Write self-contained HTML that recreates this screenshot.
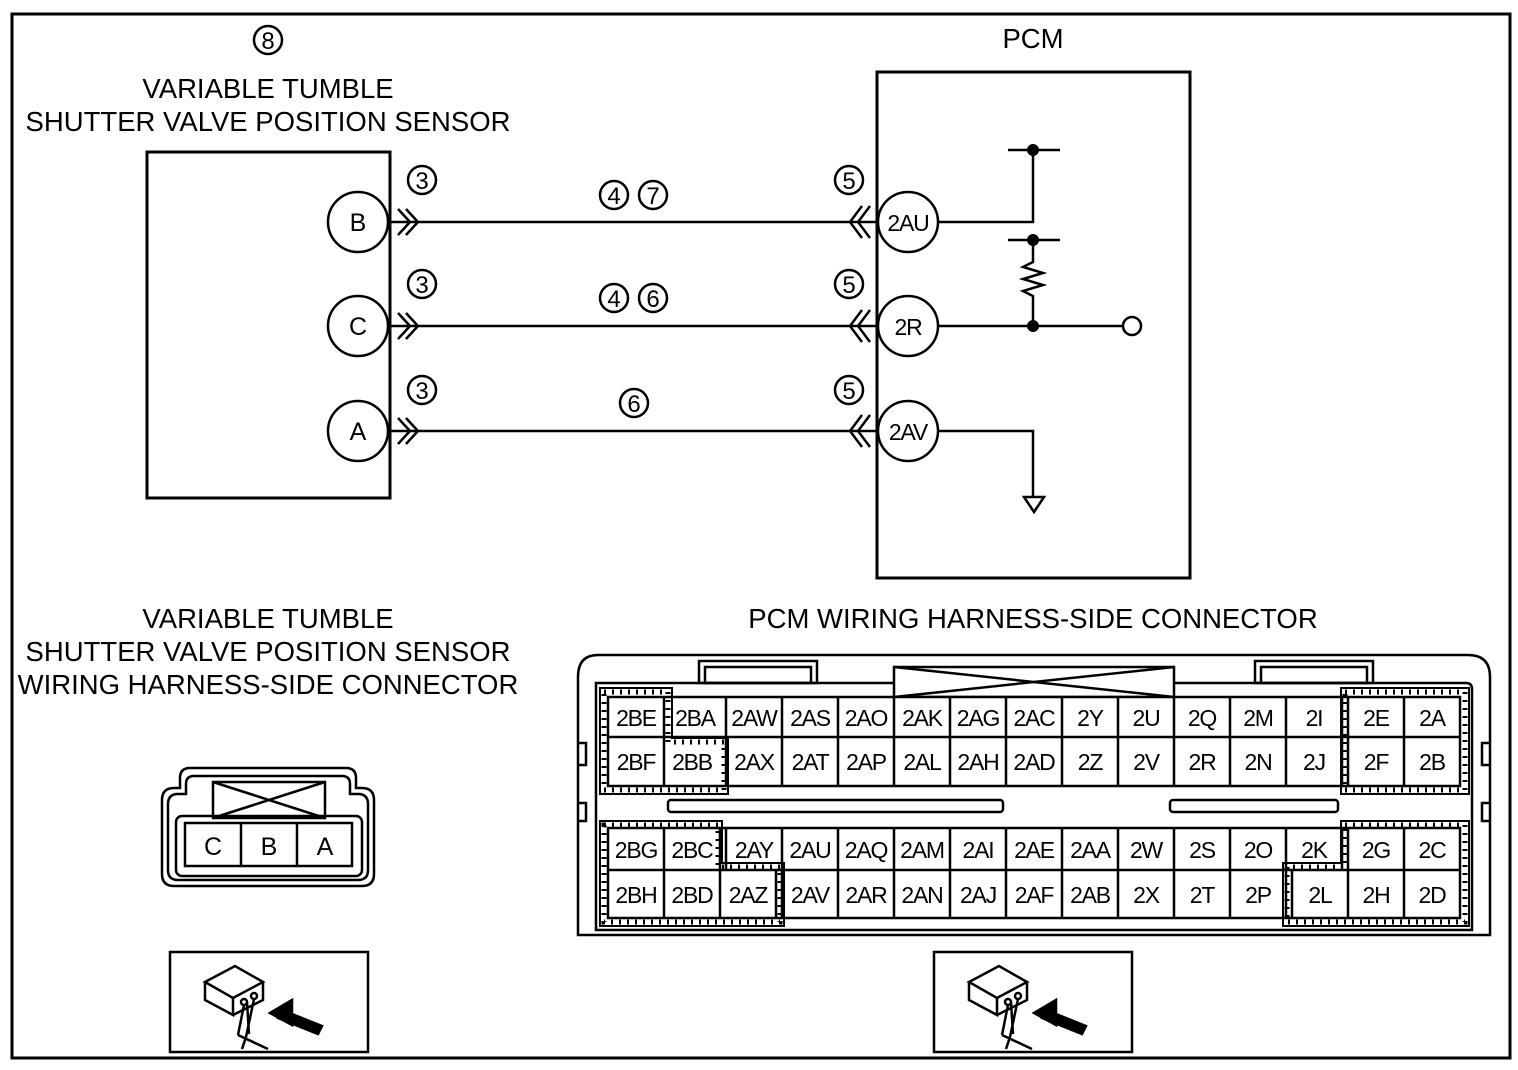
<!DOCTYPE html>
<html><head><meta charset="utf-8"><style>
html,body{margin:0;padding:0;background:#fff;}
svg{display:block;}
text{font-family:"Liberation Sans",sans-serif;fill:#000;}
.t{font-size:27.5px;text-anchor:middle;}
.c{font-size:23px;text-anchor:middle;letter-spacing:-1.2px;}
.n{font-size:25px;text-anchor:middle;}
.s{font-size:24px;text-anchor:middle;}
</style></head><body>
<svg width="1518" height="1070" viewBox="0 0 1518 1070" xmlns="http://www.w3.org/2000/svg" stroke="#000" fill="none">
<rect x="12" y="14" width="1498" height="1044" stroke-width="3"/>
<g stroke="none">
<text class="t" x="268" y="98">VARIABLE TUMBLE</text>
<text class="t" x="268" y="131">SHUTTER VALVE POSITION SENSOR</text>
<text class="t" x="1033" y="48">PCM</text>
<text class="t" x="268" y="628">VARIABLE TUMBLE</text>
<text class="t" x="268" y="661">SHUTTER VALVE POSITION SENSOR</text>
<text class="t" x="268" y="694">WIRING HARNESS-SIDE CONNECTOR</text>
<text class="t" x="1033" y="628">PCM WIRING HARNESS-SIDE CONNECTOR</text>
</g>
<g stroke-width="2.5">
<circle cx="268" cy="40" r="14"/>
<circle cx="422" cy="180" r="14"/><circle cx="422" cy="284" r="14"/><circle cx="422" cy="390" r="14"/>
<circle cx="614" cy="195" r="14"/><circle cx="653" cy="195" r="14"/>
<circle cx="614" cy="298" r="14"/><circle cx="653" cy="298" r="14"/>
<circle cx="634" cy="403" r="14"/>
<circle cx="849" cy="180" r="14"/><circle cx="849" cy="284" r="14"/><circle cx="849" cy="390" r="14"/>
</g>
<g stroke="none">
<text class="s" x="268" y="49">8</text>
<text class="s" x="422" y="189">3</text><text class="s" x="422" y="293">3</text><text class="s" x="422" y="399">3</text>
<text class="s" x="614" y="204">4</text><text class="s" x="653" y="204">7</text>
<text class="s" x="614" y="307">4</text><text class="s" x="653" y="307">6</text>
<text class="s" x="634" y="412">6</text>
<text class="s" x="849" y="189">5</text><text class="s" x="849" y="293">5</text><text class="s" x="849" y="399">5</text>
</g>
<rect x="147" y="152" width="243" height="346" stroke-width="3"/>
<rect x="877" y="72" width="313" height="506" stroke-width="3"/>
<g stroke-width="2.5" fill="#fff">
<circle cx="358" cy="222" r="30"/><circle cx="358" cy="326" r="30"/><circle cx="358" cy="431" r="30"/>
<circle cx="908" cy="222" r="30"/><circle cx="908" cy="326" r="30"/><circle cx="908" cy="431" r="30"/>
</g>
<g stroke="none">
<text class="n" x="358" y="231">B</text><text class="n" x="358" y="335">C</text><text class="n" x="358" y="440">A</text>
<text class="c" x="908" y="231">2AU</text><text class="c" x="908" y="335">2R</text><text class="c" x="908" y="440">2AV</text>
</g>
<g stroke-width="2.5">
<line x1="390" y1="222" x2="877" y2="222"/><line x1="390" y1="326" x2="877" y2="326"/><line x1="390" y1="431" x2="877" y2="431"/>
<path d="M398 209l12 13l-12 13M406 209l12 13l-12 13"/>
<path d="M398 313l12 13l-12 13M406 313l12 13l-12 13"/>
<path d="M398 418l12 13l-12 13M406 418l12 13l-12 13"/>
<path d="M862 206l-12 16l12 16M870 206l-12 16l12 16"/>
<path d="M862 310l-12 16l12 16M870 310l-12 16l12 16"/>
<path d="M862 415l-12 16l12 16M870 415l-12 16l12 16"/>
<path d="M938 222H1033V150M1008 150H1060M1008 240H1060M1033 240V262l-10 5l20 6l-20 6l20 6l-20 6l10 5V326M938 326H1122M938 431H1033V497"/>
<circle cx="1132" cy="326" r="9"/>
<path d="M1024 497h20l-10 15z"/>
</g>
<g fill="#000" stroke="none"><circle cx="1033" cy="150" r="6"/><circle cx="1033" cy="240" r="6"/><circle cx="1033" cy="326" r="6"/></g>
<!-- small connector -->
<g stroke-width="2.5">
<path d="M162 800q0-12 12-12h6v-10q0-10 10-10h156q10 0 10 10v10h6q12 0 12 12v74q0 12-12 12h-188q-12 0-12-12z"/>
<path d="M168 804q0-10 10-10h8v-10q0-8 8-8h148q8 0 8 8v10h8q10 0 10 10v66q0 10-10 10h-180q-10 0-10-10z"/>
<rect x="213" y="782" width="112" height="36"/>
<path d="M213 782L325 818M325 782L213 818"/>
<rect x="176" y="816" width="186" height="60" rx="6"/>
<rect x="185" y="823" width="167" height="43"/>
<path d="M241 823v43M297 823v43"/>
</g>
<g stroke="none"><text class="n" x="213" y="855">C</text><text class="n" x="269" y="855">B</text><text class="n" x="325" y="855">A</text></g>
<!-- icon boxes -->
<g stroke-width="2.5">
<rect x="170" y="952" width="198" height="100"/>
<rect x="934" y="952" width="198" height="100"/>
<g id="ic">
<path d="M205 982l30-16l28 16l-30 16zM205 982v18l28 15v-17M233 1015l30-15v-18"/>
<circle cx="244" cy="1002" r="3"/><circle cx="254" cy="996" r="3"/>
<path d="M244 1005l-6 30M254 999l-8 38M247 1002l2 32M238 1035l30 14M246 1037l-4 12"/>
<path d="M292 1000l-22 13l22 12z" fill="#000"/><path d="M282 1010l40 16l-4 8l-40-16z" fill="#000"/>
</g>
<use href="#ic" transform="translate(764 0)"/>
</g>
<!-- PCM connector housing -->
<g stroke-width="2.5">
<path d="M598 655H1468q22 0 22 22V935H578V677q0-22 20-22z"/>
<path d="M596 683H1466q6 0 6 6V930H596z"/>
<path d="M578 743h8v22h-8M578 803h8v18h-8M1490 743h-8v22h8M1490 803h-8v18h8"/>
<rect x="699" y="661" width="118" height="22"/><rect x="705" y="667" width="106" height="16"/>
<rect x="1255" y="661" width="118" height="22"/><rect x="1261" y="667" width="106" height="16"/>
<rect x="894" y="667" width="280" height="30" fill="#fff"/>
<path d="M894 667L1174 697M1174 667L894 697"/>
<rect x="668" y="800" width="335" height="12" rx="3"/>
<rect x="1170" y="800" width="168" height="12" rx="3"/>
<rect x="608" y="697" width="852" height="89" fill="#fff"/>
<line x1="608" y1="737" x2="1460" y2="737"/>
<path d="M664 697v89M726 697v89M782 697v89M838 697v89M894 697v89M950 697v89M1006 697v89M1062 697v89M1118 697v89M1174 697v89M1230 697v89M1286 697v89M1342 697v89M1348 697v89M1404 697v89"/>
<rect x="608" y="828" width="852" height="90" fill="#fff"/>
<line x1="608" y1="870" x2="1460" y2="870"/>
<path d="M664 828v90M720 828v90M726 828v42M782 828v90M776 870v48M838 828v90M894 828v90M950 828v90M1006 828v90M1062 828v90M1118 828v90M1174 828v90M1230 828v90M1286 828v90M1342 828v42M1292 870v48M1348 828v90M1404 828v90"/>
</g>
<g stroke-width="2">
<path d="M600 688H672V738H728V794H600Z"/>
<path d="M1341 688H1469V794H1341Z"/>
<path d="M600 821H722V863H784V926H600Z"/>
<path d="M1341 821H1469V926H1283V863H1341Z"/>
</g>
<g stroke-width="5" stroke-dasharray="2 6">
<path d="M604 692H668V742H724V790H604Z"/>
<path d="M1345 692H1465V790H1345Z"/>
<path d="M604 825H718V867H780V922H604Z"/>
<path d="M1345 825H1465V922H1287V867H1345Z"/>
</g>
<g stroke="none">
<text class="c" x="636" y="726">2BE</text><text class="c" x="695" y="726">2BA</text><text class="c" x="754" y="726">2AW</text><text class="c" x="810" y="726">2AS</text><text class="c" x="866" y="726">2AO</text><text class="c" x="922" y="726">2AK</text><text class="c" x="978" y="726">2AG</text><text class="c" x="1034" y="726">2AC</text><text class="c" x="1090" y="726">2Y</text><text class="c" x="1146" y="726">2U</text><text class="c" x="1202" y="726">2Q</text><text class="c" x="1258" y="726">2M</text><text class="c" x="1314" y="726">2I</text><text class="c" x="1376" y="726">2E</text><text class="c" x="1432" y="726">2A</text>
<text class="c" x="636" y="770">2BF</text><text class="c" x="692" y="770">2BB</text><text class="c" x="754" y="770">2AX</text><text class="c" x="810" y="770">2AT</text><text class="c" x="866" y="770">2AP</text><text class="c" x="922" y="770">2AL</text><text class="c" x="978" y="770">2AH</text><text class="c" x="1034" y="770">2AD</text><text class="c" x="1090" y="770">2Z</text><text class="c" x="1146" y="770">2V</text><text class="c" x="1202" y="770">2R</text><text class="c" x="1258" y="770">2N</text><text class="c" x="1314" y="770">2J</text><text class="c" x="1376" y="770">2F</text><text class="c" x="1432" y="770">2B</text>
<text class="c" x="636" y="858">2BG</text><text class="c" x="692" y="858">2BC</text><text class="c" x="754" y="858">2AY</text><text class="c" x="810" y="858">2AU</text><text class="c" x="866" y="858">2AQ</text><text class="c" x="922" y="858">2AM</text><text class="c" x="978" y="858">2AI</text><text class="c" x="1034" y="858">2AE</text><text class="c" x="1090" y="858">2AA</text><text class="c" x="1146" y="858">2W</text><text class="c" x="1202" y="858">2S</text><text class="c" x="1258" y="858">2O</text><text class="c" x="1314" y="858">2K</text><text class="c" x="1376" y="858">2G</text><text class="c" x="1432" y="858">2C</text>
<text class="c" x="636" y="903">2BH</text><text class="c" x="692" y="903">2BD</text><text class="c" x="748" y="903">2AZ</text><text class="c" x="810" y="903">2AV</text><text class="c" x="866" y="903">2AR</text><text class="c" x="922" y="903">2AN</text><text class="c" x="978" y="903">2AJ</text><text class="c" x="1034" y="903">2AF</text><text class="c" x="1090" y="903">2AB</text><text class="c" x="1146" y="903">2X</text><text class="c" x="1202" y="903">2T</text><text class="c" x="1258" y="903">2P</text><text class="c" x="1320" y="903">2L</text><text class="c" x="1376" y="903">2H</text><text class="c" x="1432" y="903">2D</text>
</g>
</svg>
</body></html>
